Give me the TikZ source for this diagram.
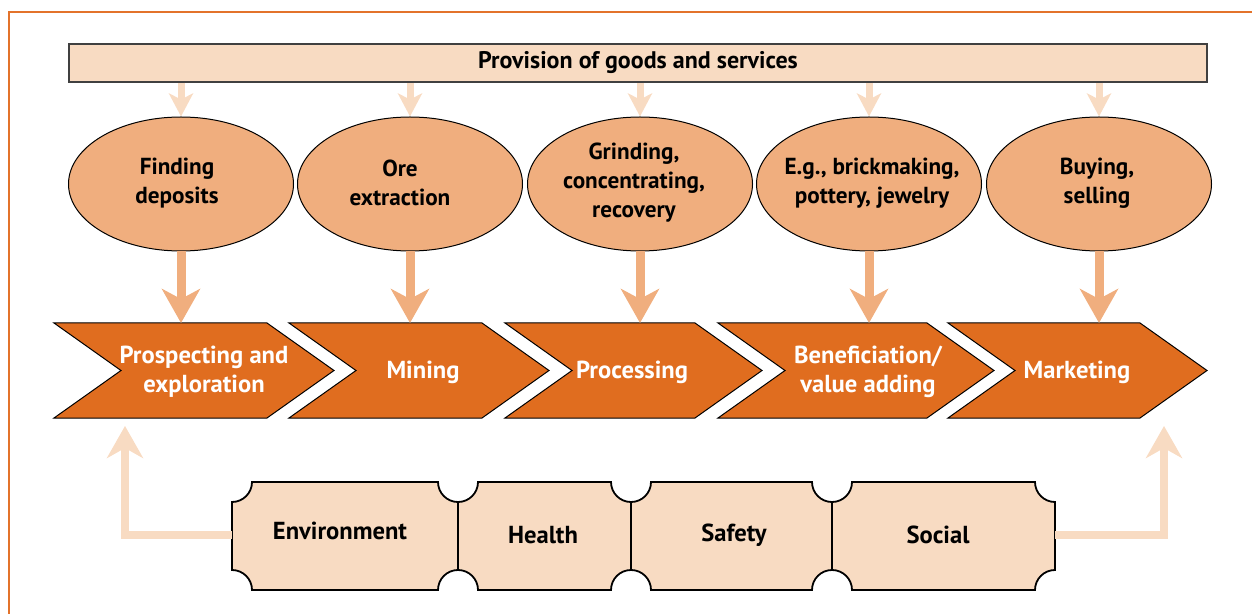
\documentclass[tikz,border=0pt]{standalone}
\usepackage{fontspec}
\setmainfont{PT Sans}
\usetikzlibrary{arrows.meta,shapes.geometric}
\definecolor{frameorange}{HTML}{E3732B}
\definecolor{peach}{HTML}{F8DBC2}
\definecolor{salmon}{HTML}{F0AE7E}
\definecolor{chevorange}{HTML}{E06D1F}
\newcommand\txtsize{\fontsize{11.6}{14.5}\selectfont\bfseries}
\newcommand\bigsize{\fontsize{12.3}{14.5}\selectfont\bfseries}

\begin{document}
\begin{tikzpicture}[x=0.5pt,y=-0.5pt,
	oval/.style={ellipse,draw=black,line width=0.5pt,fill=salmon,minimum width=112.5pt,minimum height=67pt,inner sep=0pt},
	ovaltext/.style={align=center,font=\txtsize},
	chev/.style={draw=black,line width=0.5pt,fill=chevorange},
	chevtext/.style={text=white,align=center,font=\bigsize},
	boxtext/.style={font=\bigsize},
	thin arrow/.style={draw=peach,line width=3.5pt,-{Stealth[length=11.5pt,width=12pt,inset=3pt]}},
	fat arrow/.style={draw=salmon,line width=4.5pt,-{Stealth[length=17pt,width=19pt,inset=5pt]}},
	side arrow/.style={draw=peach,line width=4pt,-{Stealth[length=16pt,width=18pt,inset=5pt]}}]
	% page size
	\useasboundingbox (0,0) rectangle (1252,614);
	% the frame
	\draw[frameorange,line width=1pt] (9,614) |- (1252,12);
	% top bar
	\node[draw=black!75,line width=0.8pt,fill=peach,minimum width=569pt,minimum height=19pt,inner sep=0pt,font=\fontsize{12}{14}\selectfont\bfseries] (bar) at (638,63) {Provision of goods and services};
	% the chain of chevrons
	\foreach \l/\r in {54/334, 289/549, 505/762, 718/994, 948/1207}
		\draw[chev] (\l,323) -- ({\r-67},323) -- (\r,370.5) -- ({\r-67},418) -- (\l,418) -- ({\l+67},370.5) -- cycle;
	\node[chevtext] (c1) at (204,372) {Prospecting and\\exploration};
	\node[chevtext] (c2) at (423,372) {Mining};
	\node[chevtext] (c3) at (632,372) {Processing};
	\node[chevtext] (c4) at (868,372) {Beneficiation/\\value adding};
	\node[chevtext] (c5) at (1077,372) {Marketing};
	% ovals with arrows in and out
	\foreach \n/\x/\tx/\txt in {1/181/177/{Finding\\deposits}, 2/410/400/{Ore\\extraction}, 3/640/634/{Grinding,\\concentrating,\\recovery}, 4/869/872/{E.g., brickmaking,\\pottery, jewelry}, 5/1099/1097/{Buying,\\selling}}{
		\node[oval] (e\n) at (\x,184) {};
		\node[ovaltext] (l\n) at (\tx,183) {\txt};
		\draw[thin arrow] (bar.south -| e\n.north) -- (e\n.north);
		\coordinate (t\n) at (\x,323);
		\draw[fat arrow] (e\n.south) -- (t\n);
	}
	% bottom box - notched
	\draw[draw=black,line width=0.9pt,fill=peach] (252,482)
		-- (438,482) arc[start angle=180,end angle=0,radius=20]
		-- (611,482) arc[start angle=180,end angle=0,radius=20]
		-- (812,482) arc[start angle=180,end angle=0,radius=20]
		-- (1035,482) arc[start angle=180,end angle=90,radius=20]
		-- (1055,570) arc[start angle=270,end angle=180,radius=20]
		-- (852,590) arc[start angle=0,end angle=-180,radius=20]
		-- (651,590) arc[start angle=0,end angle=-180,radius=20]
		-- (478,590) arc[start angle=0,end angle=-180,radius=20]
		-- (252,590) arc[start angle=0,end angle=-90,radius=20]
		-- (232,502) arc[start angle=90,end angle=0,radius=20] -- cycle;
	\foreach \x in {458,631,832}
		\draw[line width=0.6pt] (\x,502) -- (\x,570);
	\node[boxtext] (env) at (340,531) {Environment};
	\node[boxtext] (hea) at (543,535) {Health};
	\node[boxtext] (saf) at (734,535) {Safety};
	\node[boxtext] (soc) at (938,535) {Social};
	% feedback arrows
	\coordinate (envL) at (232,535);
	\coordinate (socR) at (1055,535);
	\coordinate (tipL) at (125,426);
	\coordinate (tipR) at (1164,426);
	\draw[side arrow] (envL) -| (tipL);
	\draw[side arrow] (socR) -| (tipR);
\end{tikzpicture}
\end{document}
